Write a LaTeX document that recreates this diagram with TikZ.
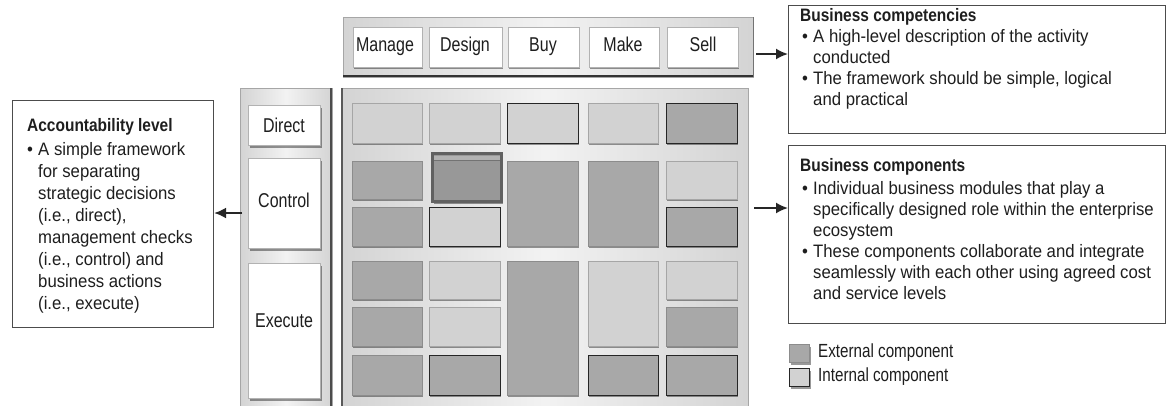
\documentclass[tikz,border=0pt]{standalone}
\usepackage{fontspec}
\setmainfont{Liberation Sans}[FakeStretch=0.93]
\newfontfamily\lblfont{Liberation Sans}[FakeStretch=0.8]
\newfontfamily\hdfont{Liberation Sans}[FakeStretch=0.86]
\usetikzlibrary{shadows,arrows.meta}
\definecolor{extc}{RGB}{168,168,168}
\definecolor{intc}{RGB}{210,210,210}
\definecolor{hic}{RGB}{152,152,152}
\definecolor{txt}{RGB}{30,30,30}
\begin{document}
\begin{tikzpicture}[x=1pt,y=-1pt,
 shd/.style={drop shadow={shadow xshift=1.2pt,shadow yshift=-2.2pt,opacity=0.4,fill=black}},
 cell/.style={line width=0.8pt,shd},
 ext/.style={cell,fill=extc,draw=black!45},
 int/.style={cell,fill=intc,draw=black!35},
 dk/.style={draw=black!85},
 panel/.style={left color=black!17,right color=black!17,middle color=black!5,draw=black!35,line width=0.8pt},
 wbox/.style={fill=white,draw=black!30,line width=0.6pt,shd,inner sep=0pt},
 lbl/.style={font=\lblfont\fontsize{20}{22}\selectfont,text=txt,inner sep=0pt},
 info/.style={draw=black!70,line width=1pt,fill=white,inner sep=0pt,anchor=north west},
 body/.style={text=txt,align=left,inner sep=0pt,anchor=north west},
 arr/.style={line width=1.8pt,draw=black!85,-{Latex[length=12pt,width=11pt]}}
]
\useasboundingbox (0,0) rectangle (1168,405);
\fill[white] (0,0) rectangle (1168,405);

% ---------- header panel ----------
\draw[panel] (343,17) rectangle (753,77);
\draw[line width=2pt,black!80] (343,76) -- (753,76);
\draw[line width=1pt,black!55] (753,17) -- (753,77);
\node[wbox,minimum width=69pt,minimum height=40pt] (manage) at (387.5,47) {};
\node[wbox,minimum width=73pt,minimum height=40pt] (design) at (465.5,47) {};
\node[wbox,minimum width=71pt,minimum height=40pt] (buy) at (543.5,47) {};
\node[wbox,minimum width=70pt,minimum height=40pt] (make) at (624,47) {};
\node[wbox,minimum width=71pt,minimum height=40pt] (sell) at (702.5,47) {};
\node[lbl,anchor=base] (managet) at (385,51) {Manage};
\node[lbl,anchor=base] (designt) at (465,51) {Design};
\node[lbl,anchor=base] (buyt) at (543,51) {Buy};
\node[lbl,anchor=base] (maket) at (623,51) {Make};
\node[lbl,anchor=base] (sellt) at (703,51) {Sell};
\coordinate (hdrright) at (756,54);

% ---------- row label panel ----------
\draw[panel] (240,88) rectangle (332,408);
\draw[line width=1.5pt,black!70] (331,88) -- (331,408);
\node[wbox,minimum width=72pt,minimum height=40pt,anchor=north west] (direct) at (248,105) {};
\node[lbl] (directt) at (284,125) {Direct};
\node[wbox,minimum width=72pt,minimum height=90pt,anchor=north west] (control) at (248,158) {};
\node[lbl] (controlt) at (284,200) {Control};
\node[wbox,minimum width=72pt,minimum height=135pt,anchor=north west] (execute) at (248,263) {};
\node[lbl] (executet) at (284,321) {Execute};
\coordinate (lblleft) at (242,213);

% ---------- main grid panel ----------
\draw[panel] (342,88) rectangle (748,408);
\draw[line width=1.2pt,black!65] (342,88) -- (342,408);
% row 1
\draw[int] (352,103) rectangle (422,143);
\draw[int] (429,103) rectangle (500,143);
\draw[int,dk] (507,103) rectangle (578,143);
\draw[int] (588,103) rectangle (658,143);
\draw[ext,dk] (666,103) rectangle (737,143);
% row 2 / 3
\draw[ext] (352,161) rectangle (422,199);
\draw[fill=hic,draw=black!62,line width=3pt,shd] (432.5,153.5) rectangle (501.5,201.5);
\fill[black!30] (434,155.5) rectangle (500,160);
\draw[black!55,line width=0.8pt] (434,160.5) -- (500,160.5);
\draw[ext] (507,161) rectangle (578,246);
\draw[ext] (588,161) rectangle (658,246);
\draw[int] (666,161) rectangle (737,199);
\draw[ext] (352,207) rectangle (422,246);
\draw[int,dk] (429,207) rectangle (500,246);
\draw[ext,dk] (666,207) rectangle (737,246);
% rows 4-6
\draw[ext] (352,261) rectangle (422,299);
\draw[int] (429,261) rectangle (500,299);
\draw[ext] (507,261) rectangle (578,395);
\draw[int] (588,261) rectangle (658,346);
\draw[int] (666,261) rectangle (737,299);
\draw[ext] (352,307) rectangle (422,346);
\draw[int] (429,307) rectangle (500,346);
\draw[ext] (666,307) rectangle (737,346);
\draw[ext] (352,355) rectangle (422,395);
\draw[ext,dk] (429,355) rectangle (500,395);
\draw[ext,dk] (588,355) rectangle (658,395);
\draw[ext,dk] (666,355) rectangle (737,395);
\coordinate (gridright) at (754,208);

% ---------- info boxes ----------
\node[info,minimum width=201pt,minimum height=227pt] (acct) at (12,100) {};
\node[body,font=\fontsize{18}{22}\selectfont] (accttext) at (27,118) {%
{\hdfont\bfseries Accountability level}\\[2pt]
\makebox[11pt][l]{\textbullet}A simple framework\\
\hspace*{11pt}for separating\\
\hspace*{11pt}strategic decisions\\
\hspace*{11pt}(i.e., direct),\\
\hspace*{11pt}management checks\\
\hspace*{11pt}(i.e., control) and\\
\hspace*{11pt}business actions\\
\hspace*{11pt}(i.e., execute)};

\node[info,minimum width=377pt,minimum height=128pt] (comp) at (788,5) {};
\node[body,font=\fontsize{18}{21}\selectfont] (comptext) at (800,8) {%
{\hdfont\bfseries Business competencies}\\
\hspace*{2pt}\makebox[11pt][l]{\textbullet}A high-level description of the activity\\
\hspace*{13pt}conducted\\
\hspace*{2pt}\makebox[11pt][l]{\textbullet}The framework should be simple, logical\\
\hspace*{13pt}and practical};

\node[info,minimum width=377pt,minimum height=178pt] (bcomp) at (788,145) {};
\node[body,font=\fontsize{18}{21}\selectfont] (bcomptext) at (800,158) {%
{\hdfont\bfseries Business components}\\[2pt]
\hspace*{2pt}\makebox[11pt][l]{\textbullet}Individual business modules that play a\\
\hspace*{13pt}specifically designed role within the enterprise\\
\hspace*{13pt}ecosystem\\
\hspace*{2pt}\makebox[11pt][l]{\textbullet}These components collaborate and integrate\\
\hspace*{13pt}seamlessly with each other using agreed cost\\
\hspace*{13pt}and service levels};

% ---------- arrows ----------
\draw[arr] (hdrright) -- (comp.west |- hdrright);
\draw[arr] (gridright) -- (bcomp.west |- gridright);
\draw[arr,line width=2.6pt] (lblleft) -- (acct.east |- lblleft);

% ---------- legend ----------
\node[ext,minimum width=20pt,minimum height=18pt,inner sep=0pt,anchor=north west] (extsw) at (789,344) {};
\node[lbl,anchor=west,font=\lblfont\fontsize{19}{22}\selectfont] (extl) at (818,353) {External component};
\node[int,dk,minimum width=20pt,minimum height=18pt,inner sep=0pt,anchor=north west] (intsw) at (789,368) {};
\node[lbl,anchor=west,font=\lblfont\fontsize{19}{22}\selectfont] (intl) at (818,377) {Internal component};
\end{tikzpicture}
\end{document}
